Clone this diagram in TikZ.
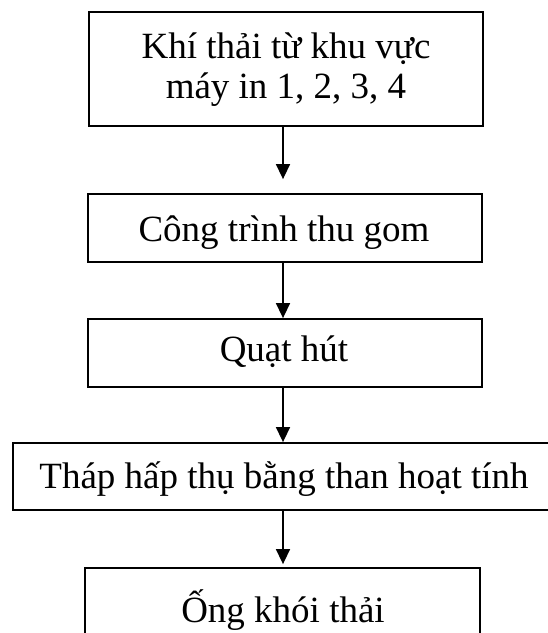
\documentclass[tikz,border=0pt]{standalone}
\usepackage{fontspec}
\setmainfont{Liberation Serif}
\usetikzlibrary{arrows.meta}
\begin{document}
\begin{tikzpicture}[x=1bp,y=-1bp,
  stagebox/.style={draw, line width=1.8bp, rectangle, inner sep=0pt},
  stagetext/.style={font=\fontsize{37bp}{40bp}\selectfont, inner sep=0pt, align=center},
  flow/.style={line width=1.5bp, -{Triangle[length=15bp,width=14bp]}}]
\useasboundingbox (0,0) rectangle (548,633);

% process boxes
\node[stagebox, minimum width=394bp, minimum height=114bp] (b1) at (286,69) {};
\node[stagebox, minimum width=394bp, minimum height=68bp]  (b2) at (285,228) {};
\node[stagebox, minimum width=394bp, minimum height=68bp]  (b3) at (285,353) {};
\node[stagebox, minimum width=542bp, minimum height=67bp]  (b4) at (284,476.5) {};
\node[stagebox, minimum width=395bp, minimum height=84bp]  (b5) at (282.5,610) {};

% box captions (a two-line caption is placed by its last baseline)
\node[stagetext, anchor=base] (t1) at (286,99) {Khí thải từ khu vực\\máy in 1, 2, 3, 4};
\node[stagetext, anchor=base] (t2) at (284,241) {Công trình thu gom};
\node[stagetext, anchor=base] (t3) at (284,361) {Quạt hút};
\node[stagetext, anchor=base] (t4) at (284,488) {Tháp hấp thụ bằng than hoạt tính};
\node[stagetext, anchor=base] (t5) at (283,622) {Ống khói thải};

% flow arrows
\coordinate (ax) at (283,0);
\draw[flow, shorten >=14bp] (b1.south -| ax) -- (b2.north -| ax);
\draw[flow] (b2.south -| ax) -- (b3.north -| ax);
\draw[flow] (b3.south -| ax) -- (b4.north -| ax);
\draw[flow, shorten >=3bp] (b4.south -| ax) -- (b5.north -| ax);
\end{tikzpicture}
\end{document}
